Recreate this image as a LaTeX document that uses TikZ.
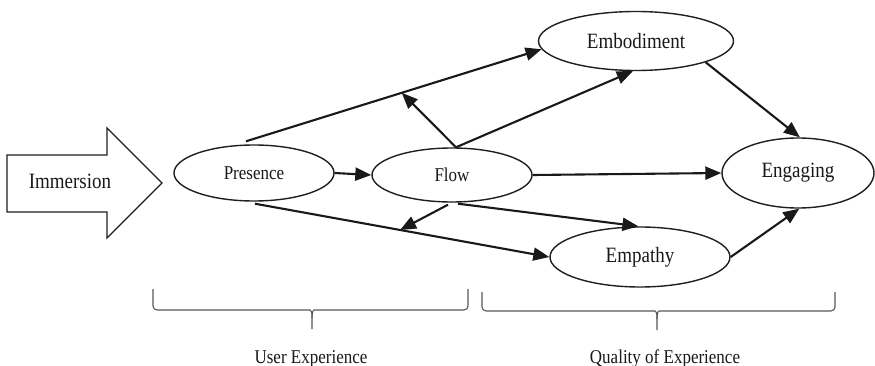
\documentclass[tikz,border=0pt]{standalone}
\usepackage{fontspec}
\usepackage{graphicx}
\setmainfont{Liberation Serif}
\usetikzlibrary{shapes.geometric,arrows.meta,calc}
% labels are set slightly taller than wide
\newcommand{\tallish}[1]{\scalebox{1}[1.15]{#1}}
\begin{document}
\begin{tikzpicture}[x=1pt,y=-1pt,
  oval/.style={ellipse, draw=black!88, line width=1.4pt, inner sep=0pt, fill=white, text=black!90},
  big/.style={font=\fontsize{19}{22}\selectfont},
  small/.style={font=\fontsize{17}{20}\selectfont},
  link/.style={draw=black!90, line width=2.1pt, -{Triangle[length=16pt,width=13pt]}},
  bracket/.style={draw=black!65, line width=1.1pt, rounded corners=4pt},
  caption/.style={font=\fontsize{17}{20}\selectfont, anchor=base, text=black!90}
]
\fill[white] (0,0) rectangle (875,366);
\useasboundingbox (0,0) rectangle (875,366);

% block arrow on the left
\draw[line width=1.4pt, draw=black!88] (7,155) -- (107,155) -- (107,128) -- (162,183)
      -- (107,238) -- (107,212) -- (7,212) -- cycle;
\node[big, text=black!90] (imm) at (70,181) {\tallish{Immersion}};

% constructs
\node[oval, minimum width=160pt, minimum height=56pt, small] (pres) at (254,173) {\tallish{Presence}};
\node[oval, minimum width=160pt, minimum height=54pt, small] (flow) at (452,175) {\tallish{Flow}};
\node[oval, minimum width=195pt, minimum height=59pt, big] (emb) at (636,41) {\tallish{Embodiment}};
\node[oval, minimum width=152pt, minimum height=70pt, big] (eng) at (798,173) {\tallish{Engaging}};
\node[oval, minimum width=180pt, minimum height=60pt, big] (emp) at (640,257) {\tallish{Empathy}};

% paths between constructs
\coordinate (ptop) at ($(pres.north)+(-8,-3)$);
\draw[link] (ptop) -- coordinate[pos=0.527] (m1) (emb.185);
\coordinate (ftop) at ($(flow.north)+(4,0)$);
\draw[link] (ftop) -- (emb.264);
\draw[link] (ftop) -- (m1);
\draw[link] (pres.east) -- (flow.west);
\draw[link] (flow.east) -- (eng.west);
\draw[link] ($(pres.south)+(1,2)$) -- coordinate[pos=0.493] (m2) (emp.west);
\draw[link] ($(flow.south)+(6,1)$) -- (emp.93);
\draw[link] ($(flow.south)+(-4,2)$) -- (m2);
\draw[link] (emb.343) -- (eng.87);
\draw[link] (emp.east) -- (eng.272);

% grouping braces
\draw[bracket] (153,289) -- (153,310) -- (306,310) .. controls (311,310) and (312,313) .. (312,318) -- (312,329);
\draw[bracket] (468,289) -- (468,310) -- (318,310) .. controls (313,310) and (312,313) .. (312,318);
\draw[bracket] (482,292) -- (482,311) -- (651,311) .. controls (656,311) and (657,314) .. (657,319) -- (657,330);
\draw[bracket] (835,292) -- (835,311) -- (663,311) .. controls (658,311) and (657,314) .. (657,319);

\node[caption] (ux) at (311,363) {\tallish{User Experience}};
\node[caption] (qoe) at (665,363) {\tallish{Quality of Experience}};
\end{tikzpicture}
\end{document}
